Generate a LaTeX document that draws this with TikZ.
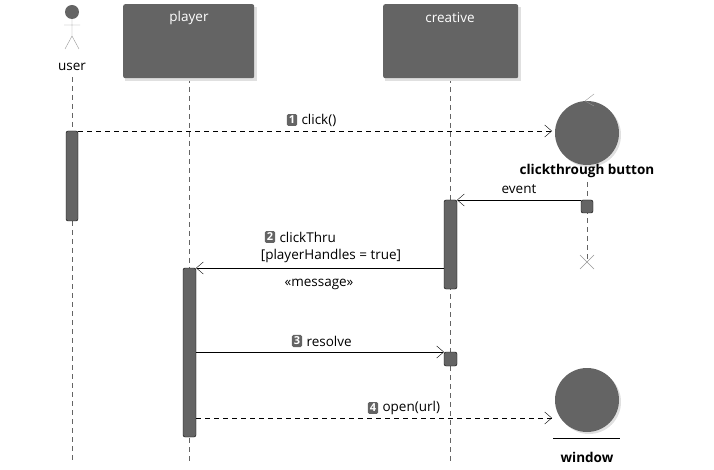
\documentclass[tikz,border=0pt]{standalone}
\usepackage{fontspec}
\setmainfont{Open Sans}
\usetikzlibrary{arrows.meta,positioning}
\definecolor{G1}{RGB}{100,100,100}
\definecolor{G2}{RGB}{150,150,150}
\tikzset{
  txt/.style={font=\fontsize{13.5}{15}\selectfont, inner sep=1pt},
  part/.style={draw=none, fill=G1, rounded corners=2pt, minimum width=131pt, minimum height=74pt},
  life/.style={G1, dashed, dash pattern=on 5pt off 4pt},
  act/.style={fill=G1, rounded corners=2pt},
  msg/.style={-{Straight Barb[length=7pt,width=12pt]}, black},
  amsg/.style={msg, dash pattern=on 5pt off 4pt},
  num/.style={fill=G1, text=white, rounded corners=1.5pt, inner sep=2pt, font=\fontsize{11}{11}\selectfont\bfseries},
}
\begin{document}
\begin{tikzpicture}[x=1pt,y=-1pt]
  \useasboundingbox (0,0) rectangle (714,470);
  % lifelines
  \draw[life] (72,77) -- (72,462);
  \draw[life] (189,78) -- (189,462);
  \draw[life] (450,78) -- (450,462);
  \draw[life] (587,182) -- (587,262);
  % participants
  \fill[black!12] (125,7) rectangle (257,81);
  \fill[black!12] (385,7) rectangle (521,81);
  \node[part, anchor=north west] (player) at (123,4) {};
  \node[part, anchor=north west, minimum width=135pt] (creative) at (383,4) {};
  \node[txt, text=white] at (189,18) {player};
  \node[txt, text=white] at (450,18) {creative};
  % actor
  \fill[G1] (72,12) circle (7);
  \draw[G2] (72,19) -- (72,36) (64,25) -- (80,25) (65,49) -- (72,36) -- (79,49);
  \node[txt] (user) at (72,67) {user};
  % control
  \fill[black!12] (589,135) circle (32);
  \node[circle, fill=G1, minimum size=64pt, inner sep=0pt] (button) at (587,133) {};
  \draw[G2] (594,94) -- (585,101) -- (594,106);
  \node[txt, font=\fontsize{13.5}{15}\selectfont\bfseries] at (587,171) {clickthrough button};
  % entity
  \fill[black!12] (589,402) circle (32);
  \node[circle, fill=G1, minimum size=64pt, inner sep=0pt] (window) at (587,400) {};
  \draw[black] (553,438) -- (620,438);
  \node[txt, font=\fontsize{13.5}{15}\selectfont\bfseries] at (587,457) {window};
  % activations
  \draw[act] (66,131) rectangle (78,221);
  \draw[act] (183,268) rectangle (196,437);
  \draw[act] (444,200) rectangle (457,289);
  \draw[act] (444,352) rectangle (457,366);
  \draw[act] (581,200) rectangle (593,213);
  \draw[G2] (580,255) -- (594,269) (594,255) -- (580,269);
  % messages
  \coordinate (m1a) at (78,131);  \coordinate (m1b) at (552,131);
  \coordinate (mea) at (581,200); \coordinate (meb) at (457,200);
  \coordinate (m2a) at (444,268); \coordinate (m2b) at (196,268);
  \coordinate (m3a) at (196,352); \coordinate (m3b) at (444,352);
  \coordinate (m4a) at (196,418); \coordinate (m4b) at (552,418);
  \draw[amsg] (m1a) -- (m1b);
  \draw[msg] (mea) -- (meb);
  \draw[msg] (m2a) -- (m2b);
  \draw[msg] (m3a) -- (m3b);
  \draw[amsg] (m4a) -- (m4b);
  % labels
  \node[num] (n1) at (292,120) {1}; \node[txt, right=3pt of n1] {click()};
  \node[txt] at (519,189) {event};
  \node[num] (n2) at (270,237) {2}; \node[txt, right=3pt of n2] {clickThru};
  \node[txt] at (331,256) {[playerHandles = true]};
  \node[txt] at (319,284) {«message»};
  \node[num] (n3) at (297,341) {3}; \node[txt, right=3pt of n3] {resolve};
  \node[num] (n4) at (373,408) {4}; \node[txt, right=3pt of n4] {open(url)};
\end{tikzpicture}
\end{document}
